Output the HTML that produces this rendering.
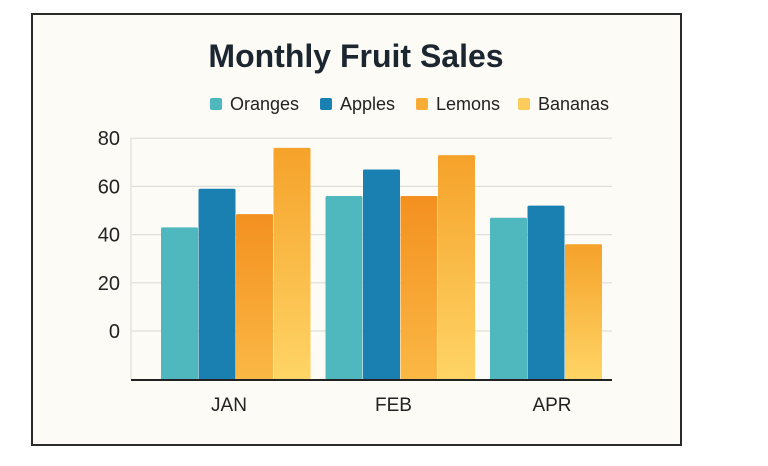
<!DOCTYPE html>
<html><head><meta charset="utf-8"><style>
body{margin:0;background:#fff;width:768px;height:461px;overflow:hidden;font-family:"Liberation Sans",sans-serif}
</style></head><body>
<svg width="768" height="461" xmlns="http://www.w3.org/2000/svg">
<defs>
<linearGradient id="gL" x1="0" y1="0" x2="0" y2="1"><stop offset="0" stop-color="#f39020"/><stop offset="1" stop-color="#fbb845"/></linearGradient>
<linearGradient id="gB" x1="0" y1="0" x2="0" y2="1"><stop offset="0" stop-color="#f5a22a"/><stop offset="1" stop-color="#ffd566"/></linearGradient>
</defs>
<rect x="32" y="14" width="649" height="431" fill="#fdfbf5" stroke="#2a2a2a" stroke-width="2"/>
<text x="356" y="67" text-anchor="middle" font-size="32" font-weight="bold" fill="#1b2630">Monthly Fruit Sales</text>
<g id="legend"></g>
<g id="grid"></g>
<g id="bars"></g>
<line x1="131" y1="380" x2="612" y2="380" stroke="#222" stroke-width="2"/>
<g id="xl"></g>
</svg>
<script>
const categories=["JAN","FEB","APR"];
const series=["Oranges","Apples","Lemons","Bananas"];
const oranges=[43,56,47];
const apples=[59,67,52];
const lemons=[48.5,56,36];
const bananas=[76,73,null];
const yTicks=[0,20,40,60,80];
const colors=["#4fb8bf","#1a80b1","url(#gL)","url(#gB)"];
const legendColors=["#4fb8bf","#1a80b1","#f7ac35","#fdcd5c"];
const NS="http://www.w3.org/2000/svg";
function y(v){return 331-(v)*2.41;}
function bx(i){return 131+i*164.5;}
function mk(t,a,p){const e=document.createElementNS(NS,t);for(const k in a)e.setAttribute(k,a[k]);p.appendChild(e);return e;}
const grid=document.getElementById('grid');
yTicks.forEach(t=>{
 const l=mk('line',{x1:131,x2:612,y1:y(t),y2:y(t),stroke:'#e0ded8','stroke-width':1.2},grid);
 
 
 const tx=mk('text',{x:120,y:y(t)+7,'text-anchor':'end','font-size':20,fill:'#222'},grid);
 tx.textContent=t;
 
 
});
mk('line',{x1:131,x2:131,y1:138,y2:380,stroke:'#e0ded8','stroke-width':1.2},grid);
const data=[oranges,apples,lemons,bananas];
const bars=document.getElementById('bars');
categories.forEach((c,i)=>{
 let slot=0;
 data.forEach((s,j)=>{
  const v=s[i]; if(v==null) return;
  const x=bx(i)+30+slot*37.5; slot++;
  const fill=(i===categories.length-1&&j===2)?'url(#gB)':colors[j];
  const r=mk('rect',{x:x,y:y(v),width:37,height:380-y(v),fill:fill,rx:1.5},bars);
  
  
 });
 const t=mk('text',{x:bx(i)+98-(i===2?6:0),y:411,'text-anchor':'middle','font-size':19,fill:'#222'},document.getElementById('xl'));
 t.textContent=c;
 
 
});
const lg=document.getElementById('legend');
const lx=[210,320,416,518];
series.forEach((s,j)=>{
 const g=mk('g',{},lg);
 
 
 mk('rect',{x:lx[j],y:98,width:12,height:12,rx:2,fill:legendColors[j]},g);
 const t=mk('text',{x:lx[j]+20,y:110,'font-size':18,fill:'#222'},g);
 t.textContent=s;
});
</script>
</body></html>
